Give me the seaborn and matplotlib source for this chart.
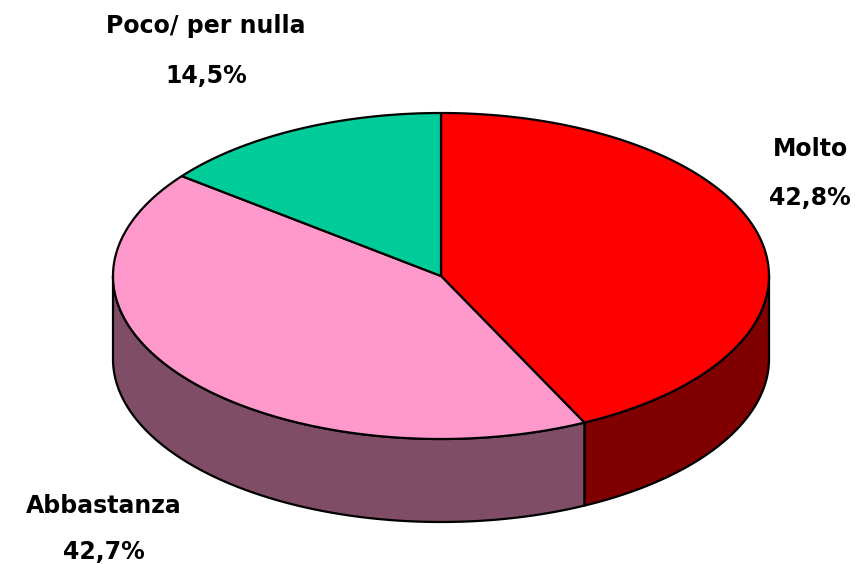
import numpy as np
import matplotlib.pyplot as plt
import seaborn as sns
from matplotlib.patches import Polygon

# data
labels = ["Molto", "Abbastanza", "Poco/ per nulla"]
shares = [42.8, 42.7, 14.5]
pct_labels = ["42,8%", "42,7%", "14,5%"]
top_colors = ["#FF0000", "#FF99CC", "#00CC99"]
side_colors = ["#800000", "#804D66", "#00664D"]

sns.set_style("white")
plt.rcParams["font.family"] = ["DejaVu Sans"]

fig = plt.figure(figsize=(8.63, 5.64), dpi=100)
ax = fig.add_axes([0, 0, 1, 1])
ax.set_xlim(0, 863)
ax.set_ylim(564, 0)
ax.axis("off")

# pie geometry (pixel units)
cx, cy, rx, ry, depth = 441, 276, 328, 163, 83


def arc(a0, a1, dy=0, n=200):
    t = np.radians(np.linspace(a0, a1, n))
    return np.column_stack([cx + rx * np.cos(t), cy - ry * np.sin(t) + dy])


frac = np.array(shares) / sum(shares)
starts = 90 - 360 * np.concatenate([[0], np.cumsum(frac)[:-1]])
ends = starts - 360 * frac

# side walls (front half only: angles -180..0)
for s, e, col in zip(starts, ends, side_colors):
    hi = min(s, 0)
    lo = max(e, -180)
    if hi <= lo:
        continue
    top = arc(hi, lo)
    bot = arc(lo, hi, dy=depth)
    ax.add_patch(Polygon(np.vstack([top, bot]), closed=True, facecolor=col,
                         edgecolor="black", lw=1.6, joinstyle="round"))

# top faces
for s, e, col in zip(starts, ends, top_colors):
    pts = np.vstack([[cx, cy], arc(s, e)])
    ax.add_patch(Polygon(pts, closed=True, facecolor=col,
                         edgecolor="black", lw=1.6, joinstyle="round"))

# labels
label_pos = {"Molto": (810, 156, 205),
             "Abbastanza": (104, 513, 559),
             "Poco/ per nulla": (206, 33, 83)}
for name, pct in zip(labels, pct_labels):
    x, y1, y2 = label_pos[name]
    ax.text(x, y1, name, ha="center", va="baseline", fontsize=17,
            fontweight="bold", color="black")
    ax.text(x, y2, pct, ha="center", va="baseline", fontsize=17,
            fontweight="bold", color="black")

fig.savefig("out.png", dpi=100, facecolor="white")
